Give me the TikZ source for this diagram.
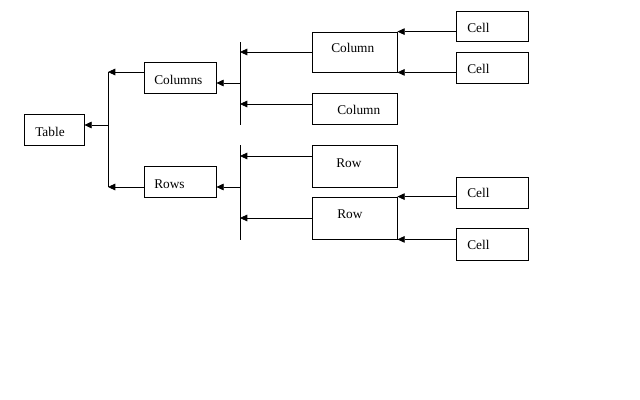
\documentclass[tikz,border=0pt]{standalone}
\usepackage{fontspec}
\setmainfont{Liberation Serif}
\usetikzlibrary{arrows.meta}
\begin{document}
\begin{tikzpicture}[x=0.75pt,y=-0.75pt,
  box/.style={draw,line width=0.6pt,rectangle,inner sep=0pt},
  txt/.style={anchor=base west,inner sep=0pt,font=\fontsize{10}{12}\selectfont},
  arr/.style={-{Triangle[length=5.5pt,width=5pt]},line width=0.6pt},
  bus/.style={line width=0.6pt}]
\useasboundingbox (0,0) rectangle (640,400);
% boxes
\node[box,minimum width=45pt,minimum height=23.25pt] (table) at (54,129.5) {};
\node[box,minimum width=54pt,minimum height=23.25pt] (columns) at (180,77.5) {};
\node[box,minimum width=54pt,minimum height=23.25pt] (rows) at (180,181.5) {};
\node[box,minimum width=63.75pt,minimum height=30pt] (col1) at (354.5,52) {};
\node[box,minimum width=63.75pt,minimum height=23.25pt] (col2) at (354.5,108.5) {};
\node[box,minimum width=63.75pt,minimum height=31.5pt] (row1) at (354.5,166) {};
\node[box,minimum width=63.75pt,minimum height=31.5pt] (row2) at (354.5,218) {};
\node[box,minimum width=54pt,minimum height=22.5pt] (cell1) at (492,26) {};
\node[box,minimum width=54pt,minimum height=23.25pt] (cell2) at (492,67.5) {};
\node[box,minimum width=54pt,minimum height=23.25pt] (cell3) at (492,192.5) {};
\node[box,minimum width=54pt,minimum height=24pt] (cell4) at (492,244) {};
% texts
\node[txt] (ttable) at (35,136) {Table};
\node[txt] (tcolumns) at (154,84.5) {Columns};
\node[txt] (trows) at (154,188) {Rows};
\node[txt] (tcol1) at (331,52) {Column};
\node[txt] (tcol2) at (337,114) {Column};
\node[txt] (trow1) at (336,167) {Row};
\node[txt] (trow2) at (337,218) {Row};
\node[txt] (tcell1) at (467,32) {Cell};
\node[txt] (tcell2) at (467,73) {Cell};
\node[txt] (tcell3) at (467,197) {Cell};
\node[txt] (tcell4) at (467,249) {Cell};
% buses
\coordinate (b1t) at (108,72);
\coordinate (b1b) at (108,187);
\coordinate (b2t) at (240,42);
\coordinate (b2b) at (240,125);
\coordinate (b3t) at (240,145);
\coordinate (b3b) at (240,240);
\draw[bus] (b1t) -- (b1b);
\draw[bus] (b2t) -- (b2b);
\draw[bus] (b3t) -- (b3b);
% level 1
\draw[arr] (b1t |- 0,125) -- (table.east |- 0,125);
\draw[arr] (columns.west |- b1t) -- (b1t);
\draw[arr] (rows.west |- b1b) -- (b1b);
% level 2
\draw[arr] (b2t |- 0,83) -- (columns.east |- 0,83);
\draw[arr] (col1.west) -- (col1.west -| b2t);
\draw[arr] (col2.west |- 0,104) -- (b2t |- 0,104);
\draw[arr] (b3t |- 0,187) -- (rows.east |- 0,187);
\draw[arr] (row1.west |- 0,156) -- (b3t |- 0,156);
\draw[arr] (row2.west) -- (row2.west -| b3t);
% cells
\draw[arr] (cell1.west |- col1.north east) -- (col1.north east);
\draw[arr] (cell2.west |- col1.south east) -- (col1.south east);
\draw[arr] (cell3.west |- row2.north east) -- (row2.north east);
\draw[arr] (cell4.west |- row2.south east) -- (row2.south east);
\end{tikzpicture}
\end{document}
